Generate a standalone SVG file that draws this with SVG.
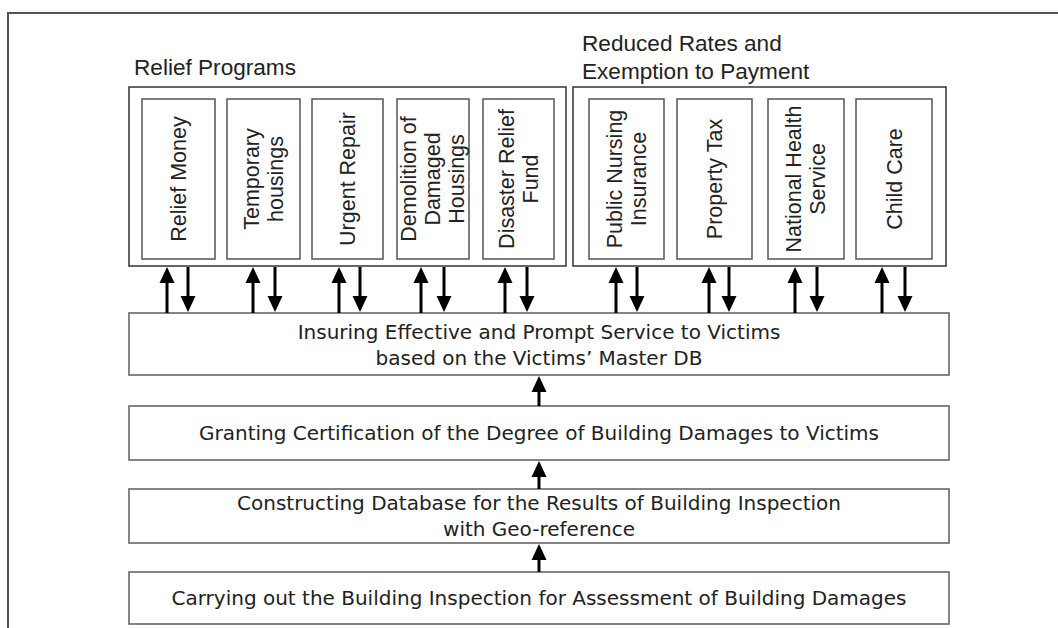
<svg xmlns="http://www.w3.org/2000/svg" width="1058" height="628" viewBox="0 0 1058 628">
<defs>
<marker id="ah" markerUnits="userSpaceOnUse" markerWidth="16" markerHeight="16" viewBox="0 0 16 16" refX="6" refY="8" orient="auto">
<path d="M0,0.5 L16,8 L0,15.5 z" fill="#000"/>
</marker>
<style>
.frame{fill:none;stroke:#555;stroke-width:2}
.grp{fill:#fff;stroke:#333;stroke-width:1.5}
.box{fill:#fff;stroke:#555;stroke-width:1.5}
.step{fill:#fff;stroke:#666;stroke-width:1.6}
.lbl{font-family:"Liberation Sans",Arial,sans-serif;font-size:22.6px;fill:#222}
.vt{font-family:"Liberation Sans",Arial,sans-serif;font-size:21.5px;fill:#222;text-anchor:middle}
.st{font-family:"DejaVu Sans",Verdana,sans-serif;font-size:20px;fill:#222;text-anchor:middle}
.arr{stroke:#000;stroke-width:3;fill:none;marker-end:url(#ah)}
</style>
</defs>
<rect width="1058" height="628" fill="#fff"/>
<rect class="frame" x="8" y="13" width="1100" height="700"/>

<g id="relief-programs">
<rect class="grp" x="129" y="87" width="437" height="179"/>
<text class="lbl" x="134" y="75">Relief Programs</text>
</g>
<g id="reduced-rates">
<rect class="grp" x="573" y="87" width="373" height="179"/>
<text class="lbl" x="582" y="51">Reduced Rates and</text>
<text class="lbl" x="582" y="79">Exemption to Payment</text>
</g>

<g id="relief-money">
<rect class="box" x="142" y="99" width="73" height="160"/>
<text class="vt" transform="translate(178.5,179) rotate(-90)" y="7.5">Relief Money</text>
</g>
<g id="temporary-housings">
<rect class="box" x="227" y="99" width="73" height="160"/>
<text class="vt" transform="translate(263.5,179) rotate(-90)"><tspan x="0" y="-5">Temporary</tspan><tspan x="0" y="19">housings</tspan></text>
</g>
<g id="urgent-repair">
<rect class="box" x="312" y="99" width="71" height="160"/>
<text class="vt" transform="translate(347.5,179) rotate(-90)" y="7.5">Urgent Repair</text>
</g>
<g id="demolition">
<rect class="box" x="397" y="99" width="72" height="160"/>
<text class="vt" transform="translate(433,179) rotate(-90)"><tspan x="0" y="-17">Demolition of</tspan><tspan x="0" y="7">Damaged</tspan><tspan x="0" y="31">Housings</tspan></text>
</g>
<g id="disaster-relief-fund">
<rect class="box" x="483" y="99" width="71" height="160"/>
<text class="vt" transform="translate(518.5,179) rotate(-90)"><tspan x="0" y="-5">Disaster Relief</tspan><tspan x="0" y="19">Fund</tspan></text>
</g>
<g id="public-nursing-insurance">
<rect class="box" x="589" y="99" width="75" height="160"/>
<text class="vt" transform="translate(626.5,179) rotate(-90)"><tspan x="0" y="-5">Public Nursing</tspan><tspan x="0" y="19">Insurance</tspan></text>
</g>
<g id="property-tax">
<rect class="box" x="677" y="99" width="75" height="160"/>
<text class="vt" transform="translate(714.5,179) rotate(-90)" y="7.5">Property Tax</text>
</g>
<g id="national-health-service">
<rect class="box" x="768" y="99" width="76" height="160"/>
<text class="vt" transform="translate(806,179) rotate(-90)"><tspan x="0" y="-5">National Health</tspan><tspan x="0" y="19">Service</tspan></text>
</g>
<g id="child-care">
<rect class="box" x="856" y="99" width="76" height="160"/>
<text class="vt" transform="translate(894,179) rotate(-90)" y="7.5">Child Care</text>
</g>

<g id="insuring-service">
<rect class="step" x="129" y="313" width="820" height="62"/>
<text class="st" x="539" y="339">Insuring Effective and Prompt Service to Victims</text>
<text class="st" x="539" y="365">based on the Victims’ Master DB</text>
</g>
<g id="granting-certification">
<rect class="step" x="129" y="406" width="820" height="54"/>
<text class="st" x="539" y="440">Granting Certification of the Degree of Building Damages to Victims</text>
</g>
<g id="constructing-database">
<rect class="step" x="129" y="489" width="820" height="54"/>
<text class="st" x="539" y="510">Constructing Database for the Results of Building Inspection</text>
<text class="st" x="539" y="536">with Geo-reference</text>
</g>
<g id="carrying-inspection">
<rect class="step" x="129" y="572" width="820" height="52"/>
<text class="st" x="539" y="605">Carrying out the Building Inspection for Assessment of Building Damages</text>
</g>

<g id="connectors">
<path class="arr" d="M167,313 V277"/><path class="arr" d="M188,267 V302"/>
<path class="arr" d="M253,313 V277"/><path class="arr" d="M275,267 V302"/>
<path class="arr" d="M339,313 V277"/><path class="arr" d="M360,267 V302"/>
<path class="arr" d="M421,313 V277"/><path class="arr" d="M444,267 V302"/>
<path class="arr" d="M505,313 V277"/><path class="arr" d="M527,267 V302"/>
<path class="arr" d="M616,313 V277"/><path class="arr" d="M637,267 V302"/>
<path class="arr" d="M709,313 V277"/><path class="arr" d="M729,267 V302"/>
<path class="arr" d="M795,313 V277"/><path class="arr" d="M817,267 V302"/>
<path class="arr" d="M882,313 V277"/><path class="arr" d="M905,267 V302"/>
<path class="arr" d="M539,406 V386"/>
<path class="arr" d="M539,489 V471"/>
<path class="arr" d="M539,572 V554"/>
</g>
</svg>
